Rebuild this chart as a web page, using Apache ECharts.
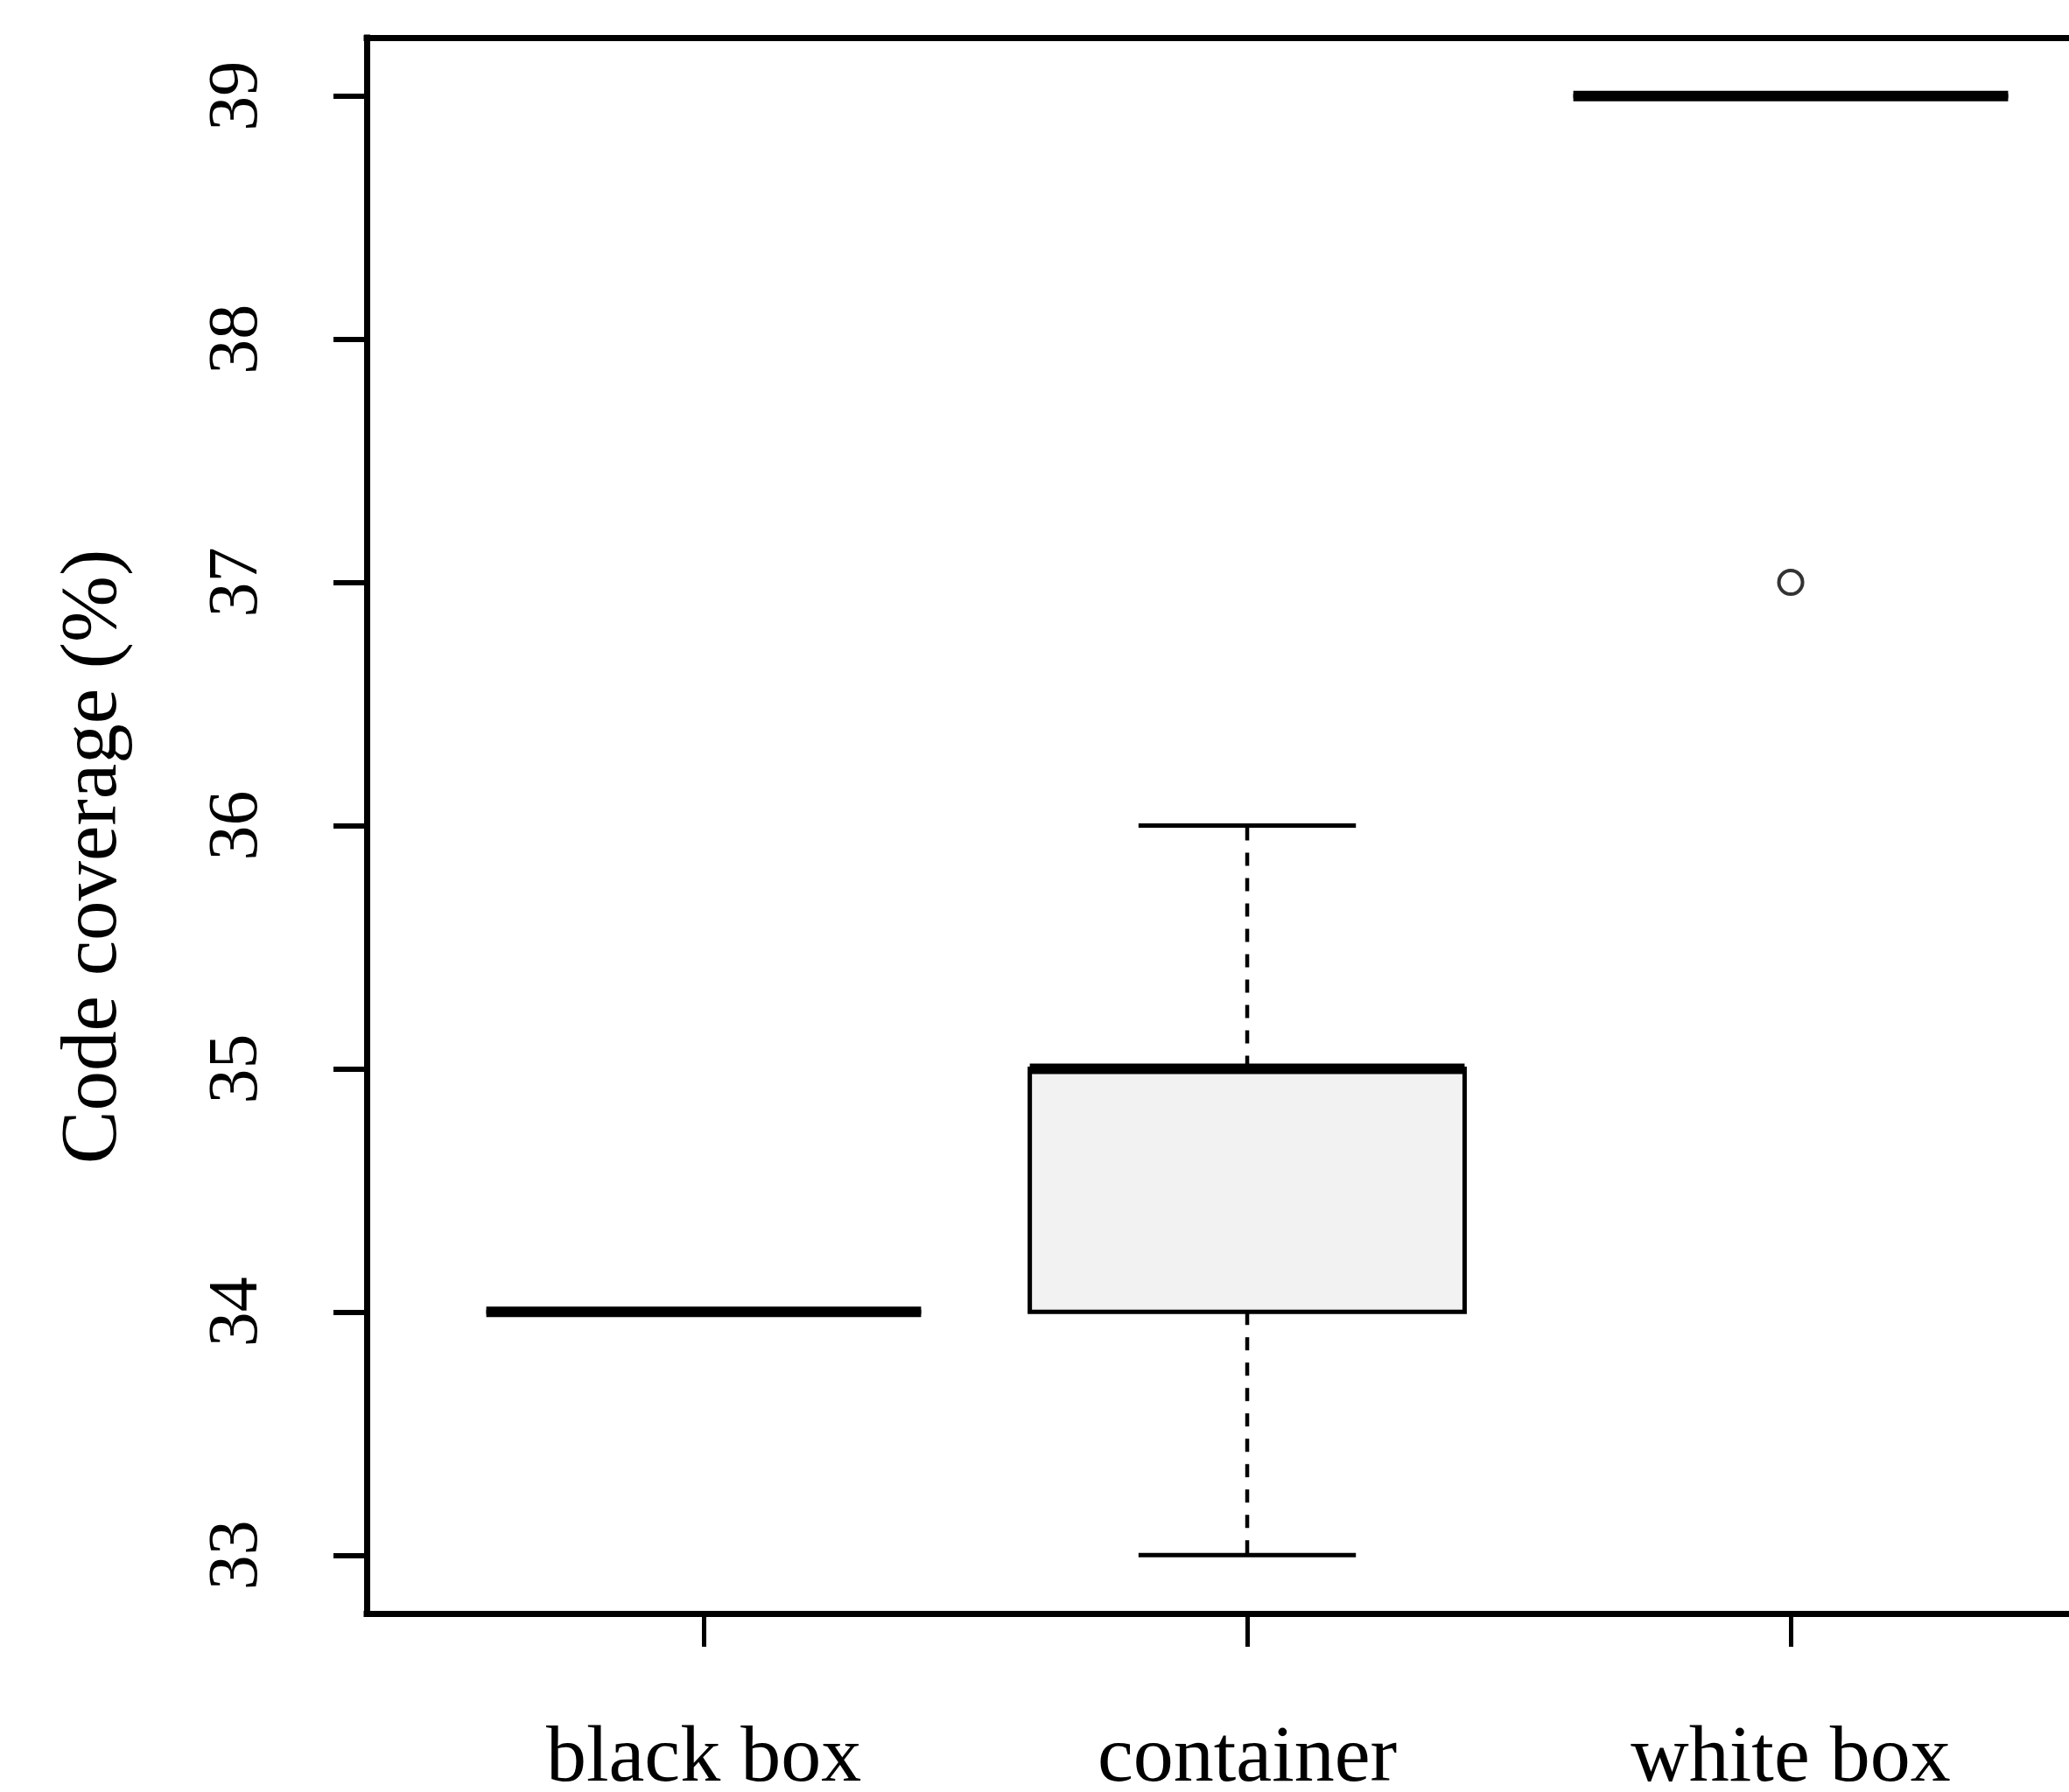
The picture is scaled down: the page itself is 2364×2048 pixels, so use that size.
<!DOCTYPE html>
<html>
<head>
<meta charset="utf-8">
<script src="https://cdn.jsdelivr.net/npm/echarts@6/dist/echarts.min.js"></script>
<style>
  html, body { margin: 0; padding: 0; background: #ffffff; }
  #chart { width: 2364px; height: 2048px; }
</style>
</head>
<body>
<div id="chart"></div>
<script>
// ---- data ----
const categories = ['black box', 'container', 'white box'];
const categoryPos = [1, 2, 3];
const minVals    = [34, 33, 39];
const q1Vals     = [34, 34, 39];
const medianVals = [34, 35, 39];
const q3Vals     = [34, 35, 39];
const maxVals    = [34, 36, 39];
const outlierPos    = [3];
const outlierValues = [37];
const yTicks = [33, 34, 35, 36, 37, 38, 39];
const yTitle = 'Code coverage (%)';

// ---- build ----
const boxData = categories.map((c, i) => [categoryPos[i], minVals[i], q1Vals[i], medianVals[i], q3Vals[i], maxVals[i]]);
const outlierData = outlierPos.map((p, i) => [p, outlierValues[i]]);

const FONT = "'Liberation Serif', 'DejaVu Serif', serif";

const chart = echarts.init(document.getElementById('chart'), null, { renderer: 'canvas' });

function renderBox(params, api) {
  const x = api.value(0);
  const pMin = api.coord([x, api.value(1)]);
  const pQ1  = api.coord([x, api.value(2)]);
  const pMed = api.coord([x, api.value(3)]);
  const pQ3  = api.coord([x, api.value(4)]);
  const pMax = api.coord([x, api.value(5)]);
  const w = api.size([0.8, 0])[0];
  const cx = pMed[0];
  const dash = { stroke: '#000', lineWidth: 4.5, lineDash: [15, 14], lineCap: 'butt' };
  const solid = { stroke: '#000', lineWidth: 5, lineCap: 'butt' };
  return {
    type: 'group',
    children: [
      { type: 'line', shape: { x1: cx, y1: pQ3[1], x2: cx, y2: pMax[1] }, style: dash },
      { type: 'line', shape: { x1: cx, y1: pQ1[1], x2: cx, y2: pMin[1] }, style: dash },
      { type: 'line', shape: { x1: cx - w / 4, y1: pMax[1], x2: cx + w / 4, y2: pMax[1] }, style: solid },
      { type: 'line', shape: { x1: cx - w / 4, y1: pMin[1], x2: cx + w / 4, y2: pMin[1] }, style: solid },
      { type: 'rect', shape: { x: cx - w / 2, y: pQ3[1], width: w, height: pQ1[1] - pQ3[1] },
        style: { fill: '#f2f2f2', stroke: '#000', lineWidth: 5 } },
      { type: 'line', shape: { x1: cx - w / 2, y1: pMed[1], x2: cx + w / 2, y2: pMed[1] },
        style: { stroke: '#000', lineWidth: 12, lineCap: 'butt' } }
    ]
  };
}

// The plot region runs off the right edge of the picture: the x range visible
// inside the 1945px-wide grid is 0.38 .. 3.512 (621px per category unit).
const option = {
  backgroundColor: '#ffffff',
  animation: false,
  grid: { left: 419, right: 0, top: 43, bottom: 204, show: false, containLabel: false, outerBoundsMode: 'none' },
  xAxis: [
    {
      type: 'value', min: 0.38, max: 3.512, position: 'bottom',
      axisLine: { show: true, lineStyle: { color: '#000', width: 7, cap: 'square' } },
      splitLine: { show: false },
      axisTick: { show: true, customValues: categoryPos, length: 38, lineStyle: { color: '#000', width: 5 } },
      axisLabel: {
        customValues: categoryPos,
        formatter: v => categories[Math.round(v) - 1],
        fontFamily: FONT, fontSize: 92, color: '#000', margin: 121
      }
    },
    {
      type: 'value', min: 0.38, max: 3.512, position: 'top',
      axisLine: { show: true, onZero: false, lineStyle: { color: '#000', width: 7, cap: 'square' } },
      axisTick: { show: false }, axisLabel: { show: false }, splitLine: { show: false }
    }
  ],
  yAxis: {
    type: 'value', min: 32.76, max: 39.24,
    axisLine: { show: true, onZero: false, lineStyle: { color: '#000', width: 7, cap: 'square' } },
    splitLine: { show: false },
    axisTick: { show: true, customValues: yTicks, length: 38, lineStyle: { color: '#000', width: 6 } },
    axisLabel: {
      customValues: yTicks, rotate: 90,
      fontFamily: FONT, fontSize: 80, color: '#000', margin: 107
    },
    name: yTitle, nameLocation: 'middle', nameRotate: 90, nameGap: 265,
    nameTextStyle: { fontFamily: FONT, fontSize: 91, color: '#000', padding: [0, 71, 0, 0] }
  },
  series: [
    {
      type: 'custom',
      renderItem: renderBox,
      data: boxData,
      encode: { x: 0, y: [1, 2, 3, 4, 5] },
      clip: false,
      z: 2
    },
    {
      type: 'scatter',
      data: outlierData,
      symbol: 'circle',
      symbolSize: 27,
      itemStyle: { color: '#ffffff', borderColor: '#000', borderWidth: 4 },
      z: 3
    }
  ]
};

chart.setOption(option);
</script>
</body>
</html>
